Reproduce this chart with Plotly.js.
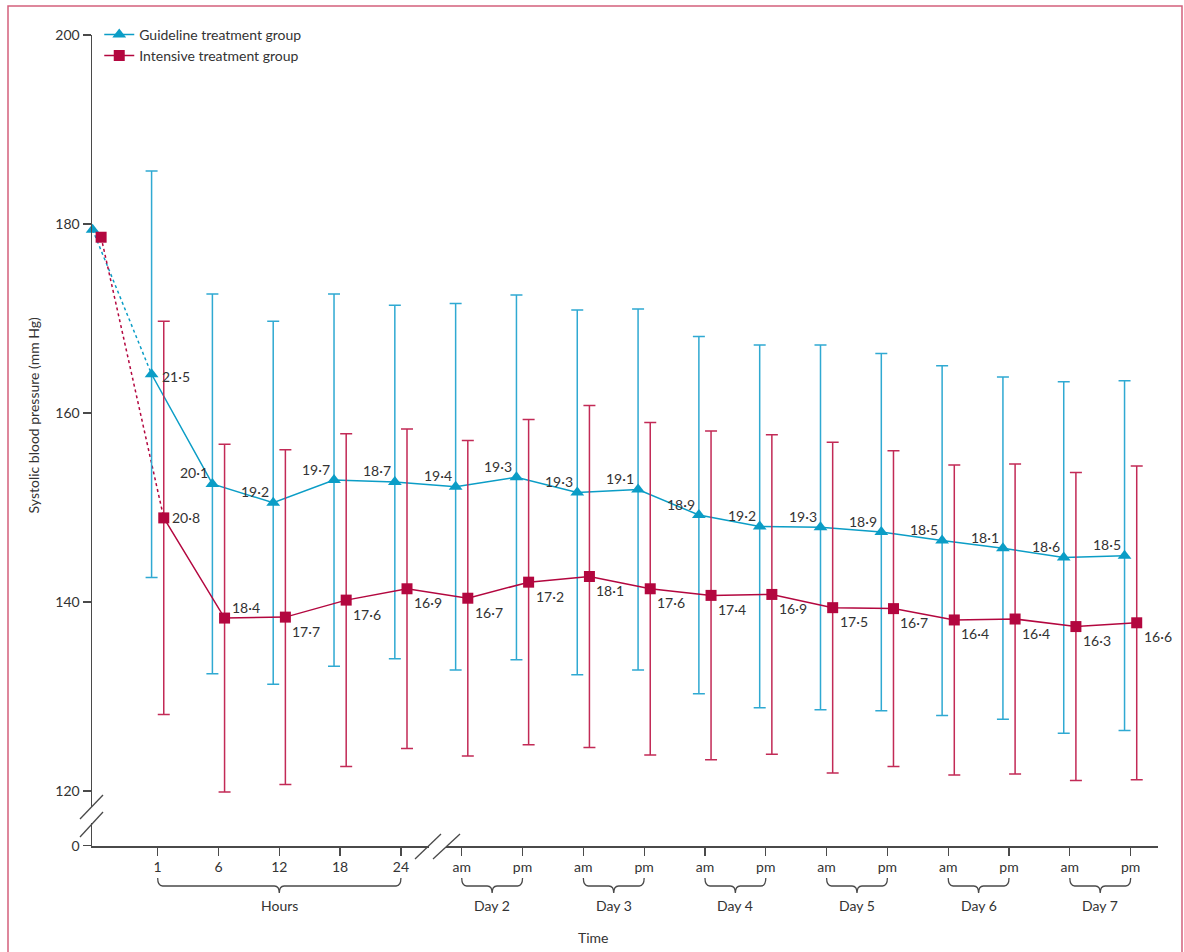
<!DOCTYPE html>
<html>
<head>
<meta charset="utf-8">
<script src="https://cdn.plot.ly/plotly-3.0.1.min.js"></script>
<style>html,body{margin:0;padding:0;background:#fff;}#chart{width:1184px;height:952px;}</style>
</head>
<body>
<div id="chart"></div>
<script>
// ---- data ----
const tickText = ['', '1', '6', '12', '18', '24', 'am', 'pm', 'am', 'pm', 'am', 'pm', 'am', 'pm', 'am', 'pm', 'am', 'pm'];
const groupLabels = ['Hours', 'Day 2', 'Day 3', 'Day 4', 'Day 5', 'Day 6', 'Day 7'];
const groupStart = [1, 6, 8, 10, 12, 14, 16];
const groupEnd = [5, 7, 9, 11, 13, 15, 17];
const guidelineMean = [179.4, 164.1, 152.5, 150.5, 152.9, 152.7, 152.2, 153.2, 151.6, 151.9, 149.2, 148.0, 147.9, 147.4, 146.5, 145.7, 144.7, 144.9];
const guidelineSD = [null, 21.5, 20.1, 19.2, 19.7, 18.7, 19.4, 19.3, 19.3, 19.1, 18.9, 19.2, 19.3, 18.9, 18.5, 18.1, 18.6, 18.5];
const intensiveMean = [178.6, 148.9, 138.3, 138.4, 140.2, 141.4, 140.4, 142.1, 142.7, 141.4, 140.7, 140.8, 139.4, 139.3, 138.1, 138.2, 137.4, 137.8];
const intensiveSD = [null, 20.8, 18.4, 17.7, 17.6, 16.9, 16.7, 17.2, 18.1, 17.6, 17.4, 16.9, 17.5, 16.7, 16.4, 16.4, 16.3, 16.6];
const yTickVals = [120, 140, 160, 180, 200];
const yBreakLabel = '0';

// ---- styling ----
const FONT = 'Lato, "Liberation Sans", sans-serif';
const TXT = '#333333';
const AX = '#4a4a4a';
const gCol = '#0b9dc6', gErr = '#2fa9d2';
const iCol = '#b3073f', iErr = '#c22a56';
const OFF = 0.1;       // side offset of the two groups
const OFF0 = 0.07;     // side offset at baseline (kept inside the axis range)
const Y0 = 114.2;      // bottom of broken axis ("0")

const idx = tickText.map((_, i) => i);
const fmt = v => v.toFixed(1).replace('.', '\u00b7');

const gx = idx.map(i => i === 0 ? -OFF0 : i - OFF), ix = idx.map(i => i === 0 ? OFF0 : i + OFF);

const traces = [
  // dashed segments baseline -> 1 h
  {x: gx.slice(0, 2), y: guidelineMean.slice(0, 2), mode: 'lines', line: {color: gCol, width: 1.5, dash: '3px,3px'}, showlegend: false, hoverinfo: 'skip'},
  {x: ix.slice(0, 2), y: intensiveMean.slice(0, 2), mode: 'lines', line: {color: iCol, width: 1.5, dash: '3px,3px'}, showlegend: false, hoverinfo: 'skip'},
  // main series
  {x: gx.slice(1), y: guidelineMean.slice(1), mode: 'lines+markers', name: 'Guideline treatment group',
   line: {color: gCol, width: 1.5}, marker: {symbol: 'triangle-up', size: 12, color: gCol},
   error_y: {type: 'data', array: guidelineSD.slice(1), visible: true, color: gErr, thickness: 1.5, width: 6},
   showlegend: false, cliponaxis: false},
  {x: ix.slice(1), y: intensiveMean.slice(1), mode: 'lines+markers', name: 'Intensive treatment group',
   line: {color: iCol, width: 1.5}, marker: {symbol: 'square', size: 11, color: iCol},
   error_y: {type: 'data', array: intensiveSD.slice(1), visible: true, color: iErr, thickness: 1.5, width: 6},
   showlegend: false, cliponaxis: false},
  // baseline markers (also legend entries)
  {x: gx.slice(0, 1), y: guidelineMean.slice(0, 1), mode: 'lines+markers', name: 'Guideline treatment group',
   line: {color: gCol, width: 1.5}, marker: {symbol: 'triangle-up', size: 12, color: gCol}, cliponaxis: false},
  {x: ix.slice(0, 1), y: intensiveMean.slice(0, 1), mode: 'lines+markers', name: 'Intensive treatment group',
   line: {color: iCol, width: 1.5}, marker: {symbol: 'square', size: 11, color: iCol}, cliponaxis: false}
];

// ---- annotations ----
const annotations = [];
for (let i = 1; i < idx.length; i++) {
  if (i === 1) {
    annotations.push({x: gx[i], y: guidelineMean[i], text: fmt(guidelineSD[i]), showarrow: false, xanchor: 'left', yanchor: 'middle', xshift: 8, yshift: -2});
    annotations.push({x: ix[i], y: intensiveMean[i], text: fmt(intensiveSD[i]), showarrow: false, xanchor: 'left', yanchor: 'middle', xshift: 6, yshift: 0});
  } else {
    annotations.push({x: gx[i], y: guidelineMean[i], text: fmt(guidelineSD[i]), showarrow: false, xanchor: 'right', yanchor: 'middle', xshift: -2, yshift: 11});
    annotations.push({x: ix[i], y: intensiveMean[i], text: fmt(intensiveSD[i]), showarrow: false, xanchor: 'left', yanchor: 'middle', xshift: 5, yshift: i === 2 ? 11 : -14});
  }
}
groupLabels.forEach((g, k) => {
  annotations.push({x: (groupStart[k] + groupEnd[k]) / 2, xref: 'x', y: -0.073, yref: 'paper', text: g, showarrow: false, xanchor: 'center', yanchor: 'middle'});
});
annotations.push({x: 0.47, xref: 'paper', y: -0.1134, yref: 'paper', text: 'Time', showarrow: false, xanchor: 'center', yanchor: 'middle'});
annotations.push({x: -0.0553, xref: 'paper', y: 0.531, yref: 'paper', text: 'Systolic blood pressure (mm Hg)', textangle: -90, showarrow: false, xanchor: 'center', yanchor: 'middle'});

// ---- shapes ----
const shapes = [];
// braces
const yE = -0.0395, yM = -0.0493, yT = -0.058, r = 0.08;
for (let k = 0; k < groupStart.length; k++) {
  const a = groupStart[k], b = groupEnd[k], m = (a + b) / 2;
  shapes.push({type: 'path', xref: 'x', yref: 'paper', line: {color: AX, width: 1.3},
    path: `M${a},${yE} Q${a},${yM} ${a + r},${yM} L${m - r},${yM} Q${m},${yM} ${m},${yT} Q${m},${yM} ${m + r},${yM} L${b - r},${yM} Q${b},${yM} ${b},${yE}`});
}
const px2x = p => (p - 92) / 1066, py2y = p => (846 - p) / 811;
// y-axis break
shapes.push({type: 'rect', xref: 'paper', yref: 'paper', x0: px2x(89), x1: px2x(95), y0: py2y(823), y1: py2y(807), fillcolor: '#fff', line: {width: 0}, layer: 'above'});
shapes.push({type: 'line', xref: 'paper', yref: 'paper', x0: px2x(80), y0: py2y(819), x1: px2x(103), y1: py2y(795), line: {color: AX, width: 1.3}});
shapes.push({type: 'line', xref: 'paper', yref: 'paper', x0: px2x(80), y0: py2y(837), x1: px2x(103), y1: py2y(812), line: {color: AX, width: 1.3}});
// x-axis break
shapes.push({type: 'rect', xref: 'paper', yref: 'paper', x0: px2x(429), x1: px2x(446), y0: py2y(849), y1: py2y(843), fillcolor: '#fff', line: {width: 0}, layer: 'above'});
shapes.push({type: 'line', xref: 'paper', yref: 'paper', x0: px2x(415), y0: py2y(859), x1: px2x(441), y1: py2y(834), line: {color: AX, width: 1.3}});
shapes.push({type: 'line', xref: 'paper', yref: 'paper', x0: px2x(433), y0: py2y(859), x1: px2x(460), y1: py2y(834), line: {color: AX, width: 1.3}});
// frame
shapes.push({type: 'rect', xref: 'paper', yref: 'paper', x0: px2x(8), x1: px2x(1182), y0: py2y(970), y1: py2y(6), line: {color: '#d3607c', width: 1.5}, fillcolor: 'rgba(0,0,0,0)'});

const layout = {
  width: 1184, height: 952,
  margin: {l: 92, r: 26, t: 35, b: 106},
  paper_bgcolor: '#fff', plot_bgcolor: '#fff',
  font: {family: FONT, size: 14, color: TXT},
  showlegend: true,
  legend: {x: 0.0068, y: 1.020, xanchor: 'left', yanchor: 'top', bgcolor: 'rgba(0,0,0,0)', font: {size: 14, color: TXT}, tracegroupgap: 0},
  xaxis: {
    range: [-0.08, 17.45], tickmode: 'array', tickvals: idx.slice(1), ticktext: tickText.slice(1),
    ticks: 'outside', ticklen: 8, tickwidth: 1.3, tickcolor: AX,
    showline: true, linecolor: AX, linewidth: 1.5, showgrid: false, zeroline: false,
    tickfont: {size: 14, color: TXT}, fixedrange: true
  },
  yaxis: {
    range: [Y0 - 0.02, 200], tickmode: 'array', tickvals: [Y0].concat(yTickVals), ticktext: [yBreakLabel].concat(yTickVals.map(String)),
    ticks: 'outside', ticklen: 8, tickwidth: 1.3, tickcolor: AX,
    showline: true, linecolor: AX, linewidth: 1.5, showgrid: false, zeroline: false,
    tickfont: {size: 14, color: TXT}, fixedrange: true
  },
  annotations: annotations.map(a => Object.assign({font: {size: 14, color: TXT}}, a)),
  shapes: shapes
};

Plotly.newPlot('chart', traces, layout, {displayModeBar: false, staticPlot: true});
</script>
</body>
</html>
